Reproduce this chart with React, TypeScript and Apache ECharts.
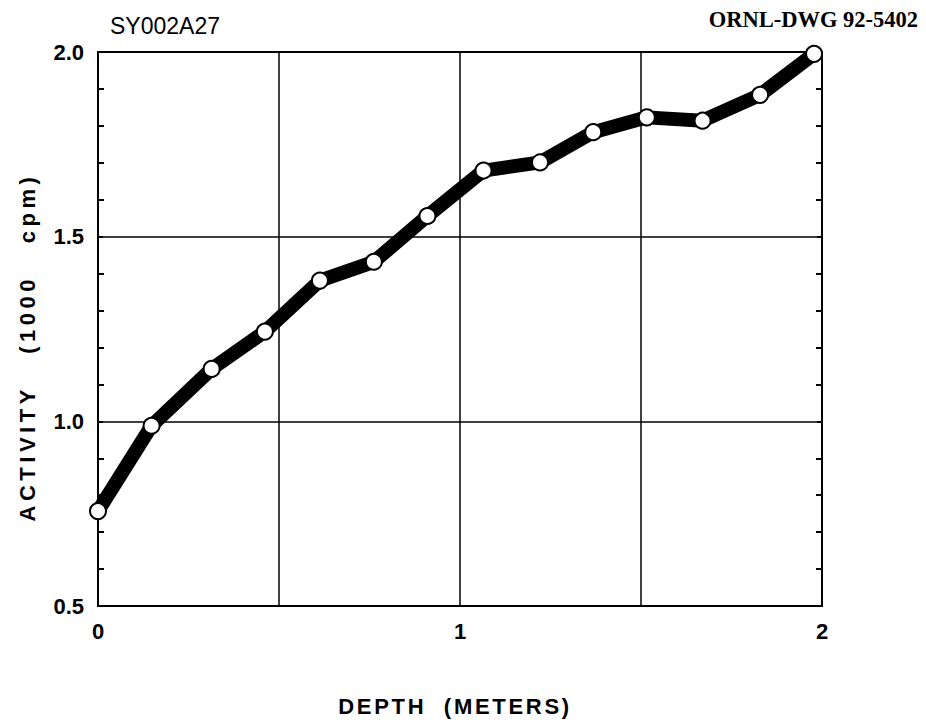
import React, { useEffect, useRef } from "react";
import * as echarts from "echarts";

const depth = [0, 0.148, 0.314, 0.461, 0.613, 0.762, 0.91, 1.065, 1.221, 1.368, 1.516, 1.67, 1.829, 1.978];
const activity = [0.757, 0.988, 1.142, 1.243, 1.381, 1.432, 1.556, 1.679, 1.701, 1.783, 1.823, 1.814, 1.884, 1.995];
const xTicks = [0, 1, 2];
const sampleId = "SY002A27";
const drawingId = "ORNL-DWG 92-5402";
const xName = "DEPTH  (METERS)";
const yName = "ACTIVITY   (1000   cpm)";

const SANS = "'Liberation Sans', Arial, Helvetica, sans-serif";
const SERIF = "'Liberation Serif', 'Times New Roman', serif";

export default function App() {
  const ref = useRef<HTMLDivElement>(null);
  useEffect(() => {
    if (!ref.current) return;
    const chart = echarts.init(ref.current, undefined, { renderer: "svg" });
    const points = depth.map((d, i) => [d, activity[i]]);
    chart.setOption({
      animation: false,
      backgroundColor: "#fff",
      grid: { left: 98, top: 52, width: 724, height: 554, show: true, borderColor: "#000", borderWidth: 2, backgroundColor: "transparent" },
      xAxis: {
        type: "value",
        min: 0,
        max: 2,
        interval: 0.5,
        axisLine: { show: true, lineStyle: { color: "#000", width: 2 } },
        axisTick: { show: false },
        splitLine: { show: true, lineStyle: { color: "#000", width: 1.5 } },
        axisLabel: {
          margin: 14,
          color: "#000",
          fontFamily: SANS,
          fontWeight: "bold",
          fontSize: 22,
          formatter: (v: number) => (xTicks.includes(v) ? String(v) : ""),
        },
      },
      yAxis: [
        {
          type: "value",
          min: 0.5,
          max: 2,
          interval: 0.5,
          axisLine: { show: true, lineStyle: { color: "#000", width: 2 } },
          axisTick: { show: true, inside: true, length: 5, lineStyle: { color: "#000", width: 2 } },
          minorTick: { show: true, splitNumber: 5, length: 6, lineStyle: { color: "#000", width: 2 } },
          splitLine: { show: true, lineStyle: { color: "#000", width: 1.5 } },
          axisLabel: {
            margin: 14,
            color: "#000",
            fontFamily: SANS,
            fontWeight: "bold",
            fontSize: 22,
            formatter: (v: number) => v.toFixed(1),
          },
        },
        {
          type: "value",
          position: "right",
          min: 0.5,
          max: 2,
          interval: 0.5,
          axisLine: { show: true, lineStyle: { color: "#000", width: 2 } },
          axisTick: { show: true, inside: true, length: 5, lineStyle: { color: "#000", width: 2 } },
          minorTick: { show: true, splitNumber: 5, length: 6, lineStyle: { color: "#000", width: 2 } },
          splitLine: { show: false },
          axisLabel: { show: false },
        },
      ],
      series: [
        {
          type: "line",
          data: points,
          clip: false,
          lineStyle: { color: "#000", width: 14, join: "round", cap: "round" },
          symbol: "circle",
          symbolSize: 16,
          itemStyle: { color: "#fff", borderColor: "#000", borderWidth: 2 },
          z: 5,
        },
      ],
      graphic: [
        { type: "text", left: 110, top: 14, style: { text: sampleId, font: `23px ${SANS}`, fill: "#000" } },
        { type: "text", right: 8, top: 8, style: { text: drawingId, font: `bold 22.5px ${SERIF}`, fill: "#000" } },
        {
          type: "text",
          x: 455,
          y: 706,
          style: { text: xName, font: `bold 22px ${SANS}`, fill: "#000", align: "center", verticalAlign: "middle" },
        },
        {
          type: "text",
          x: 27,
          y: 347,
          rotation: Math.PI / 2,
          style: { text: yName, font: `bold 22px ${SANS}`, fill: "#000", align: "center", verticalAlign: "middle" },
        },
      ],
    });
    const applySpacing = () => {
      if (!ref.current) return;
      ref.current.querySelectorAll("text").forEach((t) => {
        const s = (t.textContent || "").trim();
        if (s === xName.trim()) t.setAttribute("letter-spacing", "2.7");
        if (s === yName.trim()) t.setAttribute("letter-spacing", "4.5");
      });
    };
    chart.on("finished", applySpacing);
    applySpacing();
    const tm = setTimeout(applySpacing, 50);
    return () => {
      clearTimeout(tm);
      chart.dispose();
    };
  }, []);
  return <div ref={ref} style={{ position: "absolute", left: 0, top: 0, width: 926, height: 725 }} />;
}
